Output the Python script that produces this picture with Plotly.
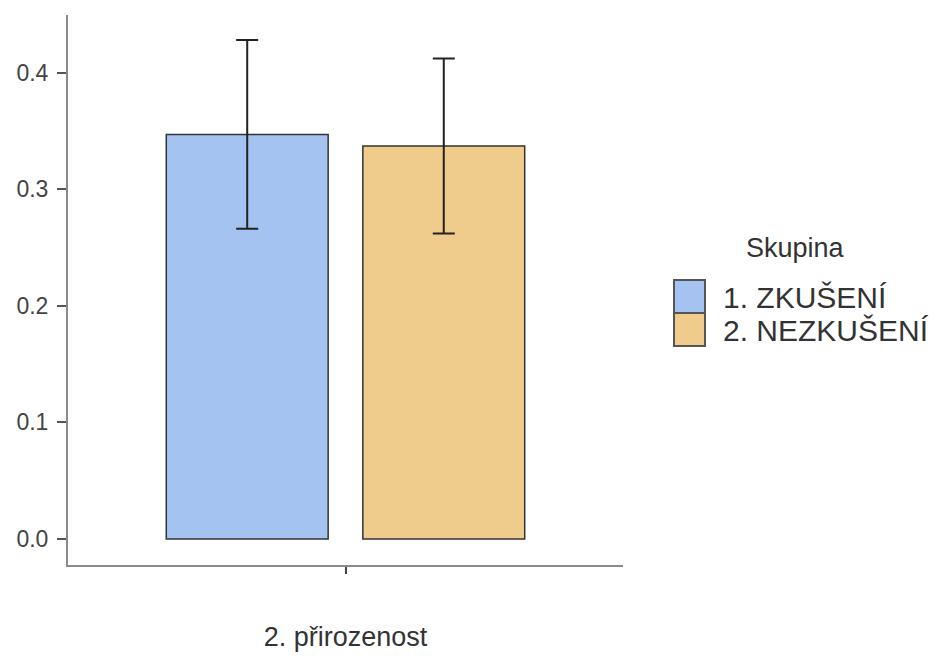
import plotly.graph_objects as go

# Data: one item, two groups, means with confidence-interval half-widths
category = ["2. přirozenost"]
groups = ["1. ZKUŠENÍ", "2. NEZKUŠENÍ"]
means = [0.347, 0.337]
errors = [0.081, 0.075]
colors = ["#a5c3f0", "#f0cc8c"]
y_ticks = [0.0, 0.1, 0.2, 0.3, 0.4]

W, H = 946, 656
L, R, T, B = 68, 623, 15, 565  # plot area in pixels


def px_x(px):
    return (px - L) / (R - L)


def px_y(py):
    return (B - py) / (B - T)


bar_offsets = [-0.3875, 0.0375]
bar_width = 0.35

fig = go.Figure()
for name, m, e, c, off in zip(groups, means, errors, colors, bar_offsets):
    fig.add_trace(go.Bar(
        x=category, y=[m], name=name,
        offset=off, width=bar_width,
        marker=dict(color=c, line=dict(color="#333333", width=1.5)),
        error_y=dict(type="data", array=[e], color="#222222", thickness=2, width=11),
        showlegend=False,
    ))

# Legend drawn as swatches + labels
ann = [dict(x=px_x(795), y=px_y(248), xref="paper", yref="paper", text="Skupina",
            showarrow=False, xanchor="center", yanchor="middle",
            font=dict(size=27, color="#333333"))]
shapes = []
sw_top = 280
sw_h = 33
for i, (name, c) in enumerate(zip(groups, colors)):
    y0 = sw_top + i * sw_h
    shapes.append(dict(type="rect", xref="paper", yref="paper",
                       x0=px_x(674), x1=px_x(705), y0=px_y(y0), y1=px_y(y0 + sw_h),
                       fillcolor=c, line=dict(color="#555555", width=2)))
    ann.append(dict(x=px_x(721), y=px_y(y0 + sw_h / 2 + 1), xref="paper", yref="paper",
                    text=name, showarrow=False, xanchor="left", yanchor="middle",
                    font=dict(size=30, color="#333333")))

fig.update_layout(
    width=W, height=H,
    margin=dict(l=L, r=W - R, t=T, b=H - B, pad=0, autoexpand=False),
    paper_bgcolor="white", plot_bgcolor="white",
    barmode="group",
    font=dict(family="Liberation Sans, Arial, sans-serif", color="#444444"),
    xaxis=dict(
        type="category", range=[-0.6, 0.6], automargin=False,
        showline=True, linecolor="#8a8a8a", linewidth=2,
        ticks="outside", ticklen=7, tickcolor="#444444", tickwidth=1.5,
        showgrid=False, zeroline=False,
        tickfont=dict(size=27, color="#333333"),
        ticklabelstandoff=40,
    ),
    yaxis=dict(
        range=[-0.0223, 0.4494], automargin=False,
        tickvals=y_ticks, ticktext=[f"{v:.1f}" for v in y_ticks],
        showline=True, linecolor="#8a8a8a", linewidth=2,
        ticks="outside", ticklen=9, tickcolor="#555555", tickwidth=2,
        showgrid=False, zeroline=False,
        tickfont=dict(size=23, color="#444444"),
        ticklabelstandoff=4,
    ),
    annotations=ann,
    shapes=shapes,
)

fig.write_html("out.html")
